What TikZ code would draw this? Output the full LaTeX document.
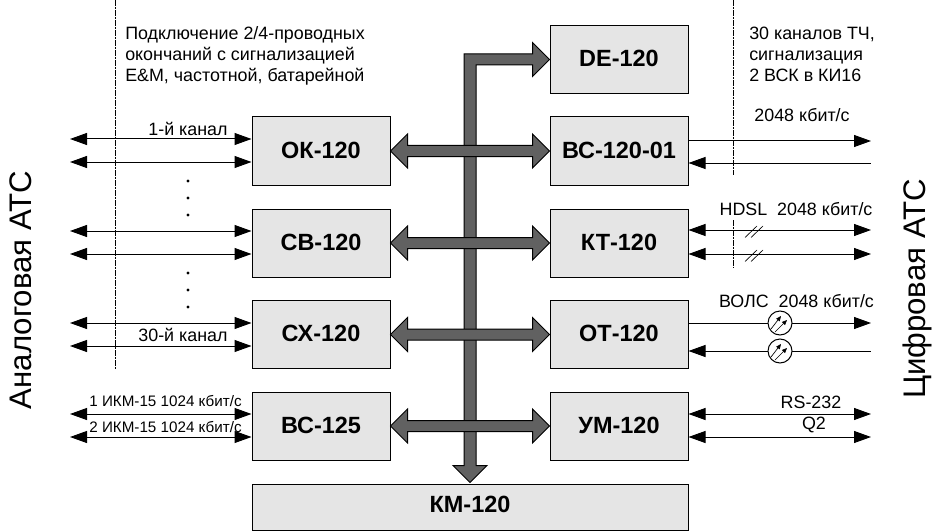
\documentclass[tikz,border=0pt]{standalone}
\usepackage{fontspec}
\setmainfont{Liberation Sans}
\usetikzlibrary{calc,arrows.meta}

\tikzset{
  block/.style={draw,fill=black!10,line width=0.75pt,minimum width=103.5pt,minimum height=51pt,inner sep=0pt,text depth=1.2pt,font=\fontsize{17.6}{20}\selectfont\bfseries},
  wire/.style={line width=0.75pt},
  tip/.style={{Triangle[length=12.75pt,width=9pt]}-{Triangle[length=12.75pt,width=9pt]}},
  tipr/.style={-{Triangle[length=12.75pt,width=9pt]}},
  tipl/.style={{Triangle[length=12.75pt,width=9pt]}-},
  busline/.style={draw=black,fill=black!62,line width=0.75pt,line join=miter},
  divider/.style={line width=0.5pt,dash pattern=on 2pt off 0.5pt},
  lbl/.style={inner sep=0pt,font=\fontsize{13.4}{15.75}\selectfont,align=left},
  smalllbl/.style={inner sep=0pt,font=\fontsize{11.4}{13}\selectfont},
  side/.style={inner sep=0pt,rotate=90,font=\fontsize{23.4}{26}\selectfont},
  led/.style={circle,draw,fill=white,line width=0.75pt,minimum size=18pt,inner sep=0pt},
}

% a thick bus arrow with a head on both ends
\newcommand{\hbus}[2]{
  \draw[busline] (#1) -- ++(17,-17) -- ++(0,11.5) -- ($(#2)+(-17,-5.5)$) -- ++(0,-11.5) -- (#2)
    -- ++(-17,17) -- ++(0,-11.5) -- ($(#1)+(17,5.5)$) -- ++(0,11.5) -- cycle;
}
% the two small rays of a light emitter
\newcommand{\rays}[1]{
  \draw[line width=0.5pt,-{Triangle[length=3.8pt,width=3.2pt]}] ($(#1)+(-9,6)$) -- ($(#1)+(1,-7)$);
  \draw[line width=0.5pt,-{Triangle[length=3.8pt,width=3.2pt]}] ($(#1)+(-5,9)$) -- ($(#1)+(7,-3)$);
}

\begin{document}
\begin{tikzpicture}[x=0.75pt,y=-0.75pt]
\useasboundingbox (0,0) rectangle (941,531);

% the blocks
\node[block] (ok) at (321,151) {ОК-120};
\node[block] (sv) at (321,243) {СВ-120};
\node[block] (sx) at (321,334.5) {СХ-120};
\node[block] (vs) at (321,426) {ВС-125};
\node[block] (de) at (619,59.5) {DE-120};
\node[block] (vc) at (619,151) {ВС-120-01};
\node[block] (kt) at (619,243) {КТ-120};
\node[block] (ot) at (619,334.5) {ОТ-120};
\node[block] (um) at (619,426) {УМ-120};
\node[block,minimum width=327pt,minimum height=34.5pt,text depth=4pt] (km) at (470,507) {КМ-120};

% the bus
\draw[busline] (km.north) ++(0,-1) -- ++(-17,-17) -- ++(11,0) |- ($(de.west)+(-17,-5.5)$)
  -- ++(0,-11.5) -- (de.west) -- ++(-17,17) -- ++(0,-11.5) -| ($(km.north)+(6,-18)$) -- ++(11,0) -- cycle;
\hbus{ok.east}{vc.west}
\hbus{sv.east}{kt.west}
\hbus{sx.east}{ot.west}
\hbus{vs.east}{um.west}

% the free ends
\foreach \name/\ypos in {a/139,b/162,c/231,d/254,e/323,f/346,g/414,h/437}
  \coordinate (l\name) at (70,\ypos);
\foreach \name/\ypos in {a/141,b/163,c/230,d/254,e/323,f/351,g/414,h/437}
  \coordinate (r\name) at (871,\ypos);

% left side
\draw[wire,tip] (la) -- (la -| ok.west);
\draw[wire,tip] (lb) -- (lb -| ok.west);
\draw[wire,tip] (lc) -- (lc -| sv.west);
\draw[wire,tip] (ld) -- (ld -| sv.west);
\draw[wire,tip] (le) -- (le -| sx.west);
\draw[wire,tip] (lf) -- (lf -| sx.west);
\draw[wire,tip] (lg) -- (lg -| vs.west);
\draw[wire,tip] (lh) -- (lh -| vs.west);

% right side
\draw[wire,tipr] (ra -| vc.east) -- (ra);
\draw[wire,tipl] (rb -| vc.east) -- (rb);
\draw[wire,tip] (rc -| kt.east) -- (rc);
\draw[wire,tip] (rd -| kt.east) -- (rd);
\draw[wire,tipr] (re -| ot.east) -- (re);
\draw[wire,tipl] (rf -| ot.east) -- (rf);
\draw[wire,tip] (rg -| um.east) -- (rg);
\draw[wire,tip] (rh -| um.east) -- (rh);

% the dividers
\draw[divider] (115,0) -- (115,369);
\draw[divider] (733,0) -- (733,175);
\draw[divider] (733,220) -- (733,267);

% the slashes on HDSL
\foreach \ypos in {230,254} {
  \draw[line width=0.5pt] (745,\ypos+7.5) -- (757,\ypos-4);
  \draw[line width=0.5pt] (751,\ypos+7.5) -- (763,\ypos-4);
}

% the emitters on the optical line
\node[led] (leda) at (780,323) {};
\node[led] (ledb) at (780,351) {};
\rays{leda}
\rays{ledb}

% the dots
\foreach \ypos in {181,198,215,273,290,307}
  \fill (188,\ypos) circle (1.7);

% the texts
\node[lbl,anchor=north west] (tleft) at (125,26.5) {Подключение 2/4-проводных\\окончаний с сигнализацией\\E\&M, частотной, батарейной};
\node[lbl,anchor=north west] (tright) at (749,26.5) {30 каналов ТЧ,\\сигнализация\\2 ВСК в КИ16};
\node[lbl] (ch1) at (188,129) {1-й канал};
\node[lbl] (ch30) at (183,335) {30-й канал};
\node[smalllbl] (ikm1) at (165.5,401) {1 ИКМ-15 1024 кбит/с};
\node[smalllbl] (ikm2) at (165.5,427) {2 ИКМ-15 1024 кбит/с};
\node[lbl] (r2048) at (802,115) {2048 кбит/с};
\node[lbl] (hdsl) at (796,209) {HDSL\ \ 2048 кбит/с};
\node[lbl] (vols) at (796.5,301) {ВОЛС\ \ 2048 кбит/с};
\node[lbl] (rs) at (811,402) {RS-232};
\node[lbl] (q2) at (814,425) {Q2};
\node[side] (atsa) at (21,290) {Аналоговая АТС};
\node[side] (atsd) at (917,289) {Цифровая АТС};

\end{tikzpicture}
\end{document}
